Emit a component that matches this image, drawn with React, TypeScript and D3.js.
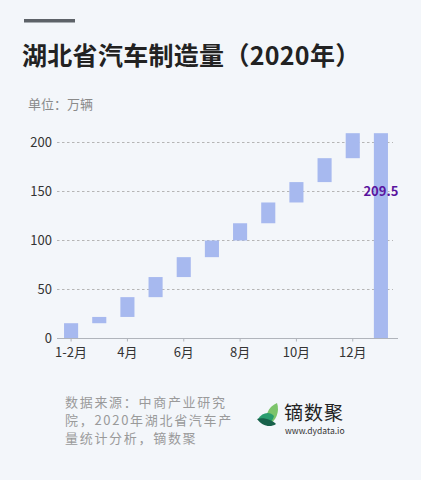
import React from "react";
import * as d3 from "d3";

// 单位：万辆
const months = ["1-2月", "3月", "4月", "5月", "6月", "7月", "8月", "9月", "10月", "11月", "12月"];
const monthlyOutput = [15.6, 6.4, 20.2, 20.5, 20.3, 17.0, 17.6, 21.2, 20.8, 24.4, 25.5];
const totalKey = "累计";
const totalValue = 209.5;
const yTicks = [0, 50, 100, 150, 200];
const shownLabels = ["1-2月", "4月", "6月", "8月", "10月", "12月"];
const sourceLines = ["数据来源：中商产业研究", "院，2020年湖北省汽车产", "量统计分析，镝数聚"];

const W = 421;
const H = 480;
const FONT = "'Noto Sans CJK SC', 'Noto Sans', sans-serif";
const BAR = "#a7b9ef";

export default function App() {
  const categories = [...months, totalKey];
  const x = d3.scaleBand<string>()
    .domain(categories)
    .range([57, 395])
    .paddingInner(0.5)
    .paddingOuter(0.25);
  const y = d3.scaleLinear().domain([0, 200]).range([338.5, 142.5]);

  const ends = Array.from(d3.cumsum(monthlyOutput));
  const bars = months.map((m, i) => ({
    key: m,
    start: ends[i] - monthlyOutput[i],
    end: ends[i],
  }));
  bars.push({ key: totalKey, start: 0, end: totalValue });

  const [x0, x1] = x.range();

  return (
    <svg
      width={W}
      height={H}
      style={{ position: "absolute", left: 0, top: 0, background: "#f3f6fa" }}
      fontFamily={FONT}
    >
      <rect x={0} y={0} width={W} height={H} fill="#f3f6fa" />

      {/* header */}
      <rect x={24} y={19} width={51} height={3.5} fill="#5d6268" />
      <text x={22} y={65} fontSize={25} fontWeight="bold" fill="#222" letterSpacing={0.3}>
        湖北省汽车制造量（2020年）
      </text>
      <text x={28} y={109} fontSize={13} fill="#8a8a8a">单位：万辆</text>

      {/* grid + y axis */}
      {yTicks.map((t) => (
        <g key={t}>
          {t > 0 && (
            <line
              x1={x0}
              x2={393}
              y1={y(t)}
              y2={y(t)}
              stroke="#b5b5b5"
              strokeWidth={1}
              strokeDasharray="2.5,2.5"
            />
          )}
          <text x={52} y={y(t) + 4.5} fontSize={13} fill="#333" textAnchor="end">
            {t}
          </text>
        </g>
      ))}

      {/* bars */}
      {bars.map((b) => (
        <rect
          key={b.key}
          x={x(b.key)}
          width={x.bandwidth()}
          y={y(b.end)}
          height={y(b.start) - y(b.end)}
          fill={BAR}
        />
      ))}

      {/* x axis */}
      <line x1={x0} x2={x1 + 3} y1={y(0)} y2={y(0)} stroke="#b0b4bb" strokeWidth={1} />
      {shownLabels.map((c) => {
        const cx = (x(c) || 0) + x.bandwidth() / 2;
        return (
          <g key={c}>
            <line x1={cx} x2={cx} y1={y(0)} y2={y(0) + 3} stroke="#b0b4bb" />
            <text x={cx} y={357} fontSize={13} fill="#333" textAnchor="middle">
              {c}
            </text>
          </g>
        );
      })}

      {/* total label */}
      <text
        x={(x(totalKey) || 0) + x.bandwidth() / 2}
        y={y(150) + 4.5}
        fontSize={13}
        fontWeight="bold"
        fill="#5a149e"
        textAnchor="middle"
      >
        {totalValue}
      </text>

      {/* source */}
      {sourceLines.map((s, i) => (
        <text key={i} x={65} y={406.5 + i * 18} fontSize={13} letterSpacing={1.7} fill="#9a9a9a">
          {s}
        </text>
      ))}

      {/* logo */}
      <g>
        <path d="M277 403 C268 407 264 416 268 425 C276 421 280 412 277 403 Z" fill="#7cc46b" />
        <path d="M258 419 C262 412 270 411 274 416 C272 424 264 427 258 419 Z" fill="#2a9d6f" />
        <path d="M257 419 C262 426 270 428 276 424 C272 420 264 417 257 419 Z" fill="#17614a" />
        <text x={284} y={420} fontSize={19} letterSpacing={1} fill="#222">镝数聚</text>
        <text x={285} y={434} fontSize={8.5} fill="#333">www.dydata.io</text>
      </g>
    </svg>
  );
}
